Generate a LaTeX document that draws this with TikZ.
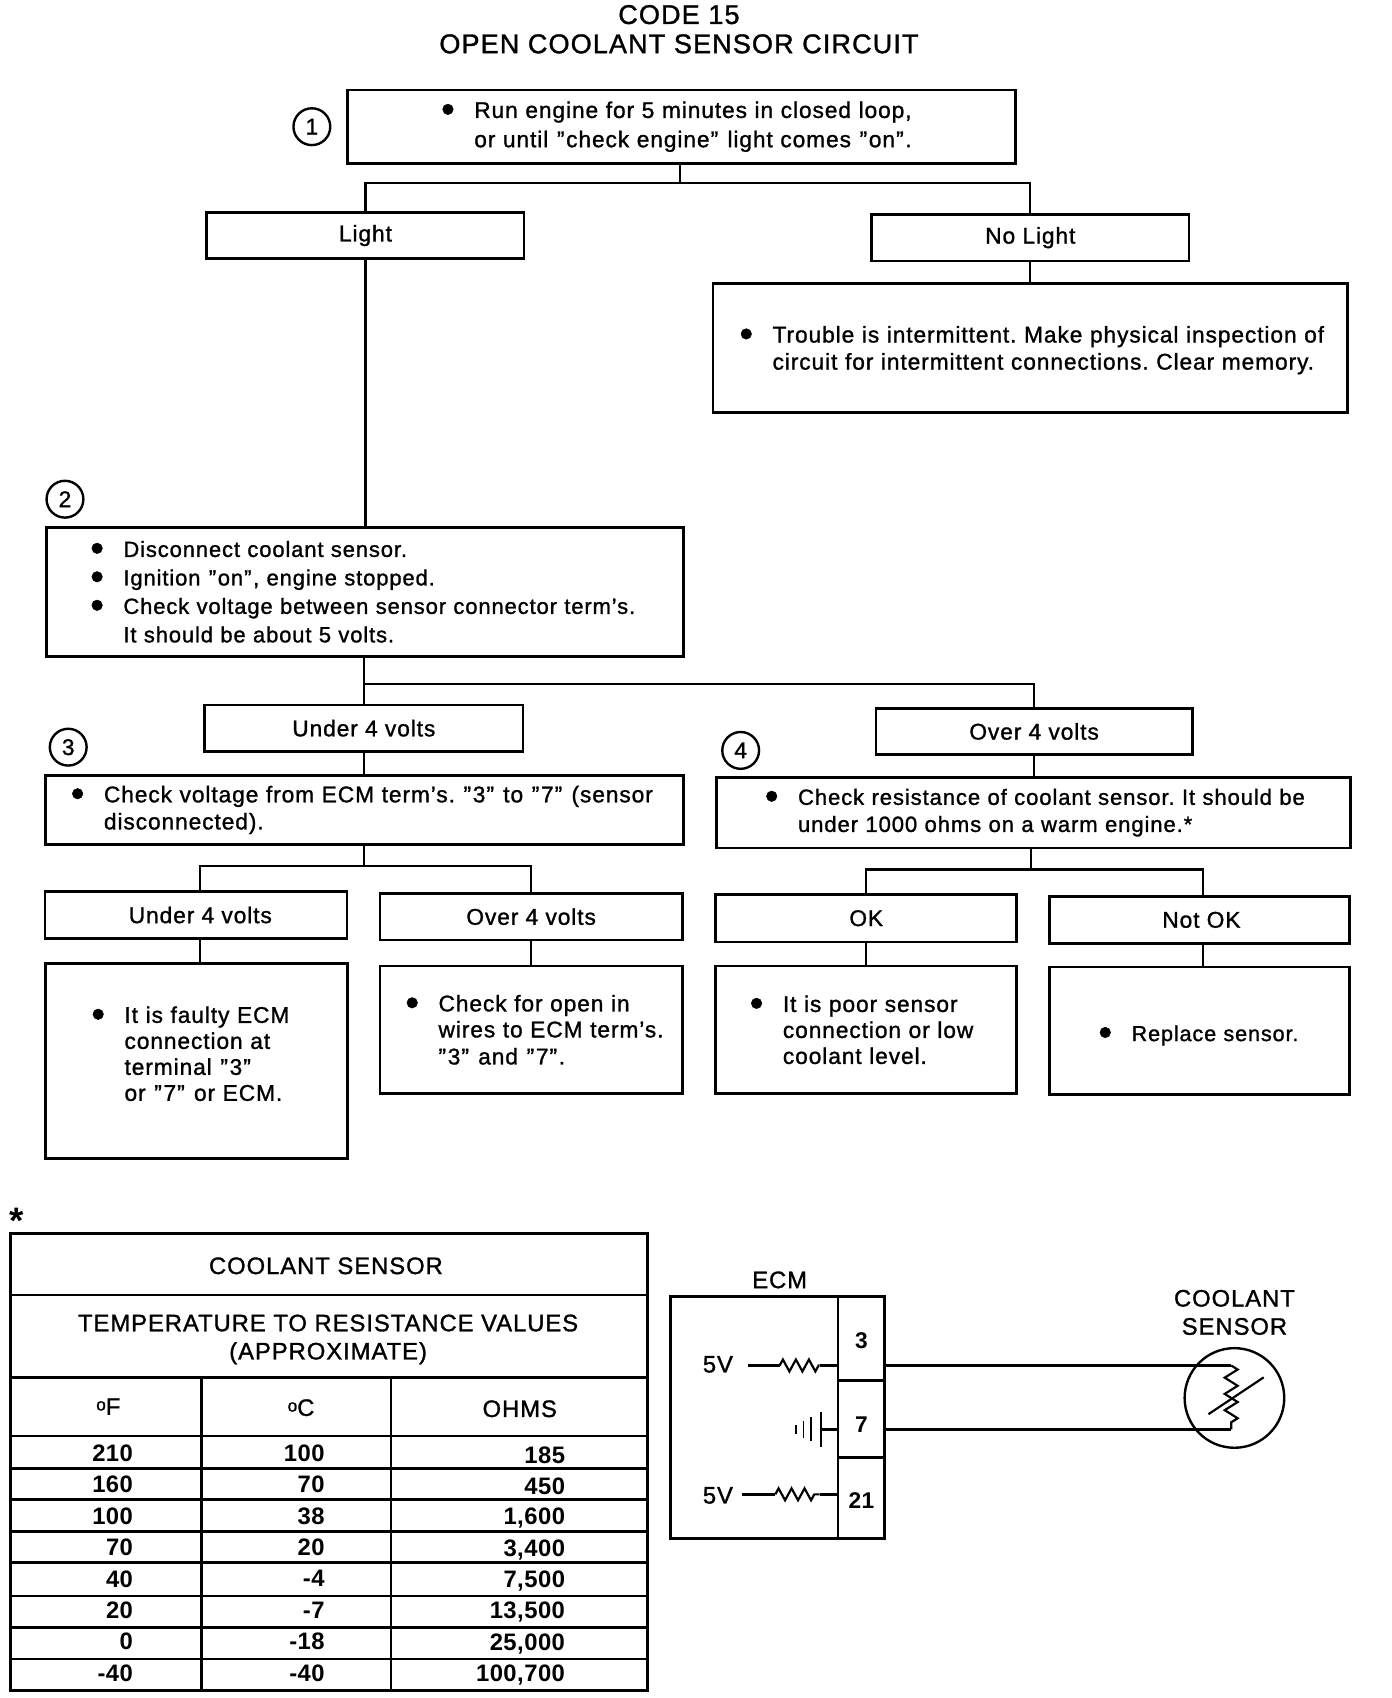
\documentclass[tikz,border=0pt]{standalone}
\usepackage{fontspec}
\setmainfont[LetterSpace=4,FakeBold=1.2]{Liberation Sans}
\newfontfamily\tablefont[LetterSpace=2]{Liberation Sans Bold}
\usetikzlibrary{decorations.pathmorphing}

\tikzset{
  boxed/.style={draw,line width=2.5pt,inner sep=0pt},
  choice/.style={boxed,font=\fontsize{21}{24}\selectfont},
  note/.style={boxed,text width=#1,align=left,font=\fontsize{21}{25}\selectfont\frenchspacing},
  number/.style={draw,circle,line width=2.2pt,minimum size=34pt,inner sep=0pt,font=\fontsize{21}{24}\selectfont},
  caps/.style={font=\fontsize{22}{26}\selectfont,align=center,inner sep=0pt},
  tablecell/.style={font=\tablefont\fontsize{22}{24}\selectfont,anchor=east,inner sep=0pt},
  pinbox/.style={boxed,minimum width=43pt,font=\tablefont\fontsize{21}{24}\selectfont},
  link/.style={line width=2pt},
  wire/.style={line width=2.4pt},
  resist/.style={line width=2pt,decorate,decoration={zigzag,segment length=12pt,amplitude=5.5pt}},
}
\newcommand{\dotmark}{\leavevmode\llap{\smash{\raisebox{-4pt}{\fontsize{36}{25}\selectfont\textbullet}}\hspace{18pt}}}
\newcommand{\bulletat}[1]{\leftskip=#1pt\relax\dotmark}
\newcommand{\qt}{\kern1pt"\kern1.5pt}

\begin{document}
\begin{tikzpicture}[x=1pt,y=-1pt]
    \useasboundingbox (0,0) rectangle (1285.5,1568.1);

    % title
    \node[caps,font=\fontsize{25}{27}\selectfont] (title) at (627,27) {CODE 15\\OPEN COOLANT SENSOR CIRCUIT};

    % step numbers
    \node[number] (S_1) at (288,117) {1};
    \node[number] (S_2) at (60,461) {2};
    \node[number] (S_3) at (63,690) {3};
    \node[number] (S_4) at (684,693) {4};

    % flow chart boxes
    \node[note=617pt,minimum height=68pt] (run) at (629.5,117) {\baselineskip=27pt\bulletat{117}Run engine for 5 minutes in closed loop,\\or until \qt{}check engine\qt{} light comes \qt{}on\qt{}.\par};
    \node[choice,minimum width=293pt,minimum height=43pt] (light) at (337.5,217.5) {Light};
    \node[choice,minimum width=293pt,minimum height=43pt] (nolight) at (951.5,219.5) {No Light};
    \node[note=586pt,minimum height=119pt] (trouble) at (951.5,321.5) {\rule{0pt}{19pt}\bulletat{55}Trouble is intermittent. Make physical inspection of\\circuit for intermittent connections. Clear memory.\par};
    \node[note=588pt,minimum height=119pt,font=\fontsize{20.3}{25}\selectfont\frenchspacing] (disconnect) at (337,546.5) {\baselineskip=26.3pt\bulletat{71}Disconnect coolant sensor.\\\dotmark Ignition \qt{}on\qt{}, engine stopped.\\\dotmark Check voltage between sensor connector term's.\\It should be about 5 volts.\par};
    \node[choice,minimum width=294pt,minimum height=43pt] (under_a) at (336,672.5) {Under 4 volts};
    \node[choice,minimum width=292pt,minimum height=43pt] (over_a) at (955,675.5) {Over 4 volts};
    \node[note=589pt,minimum height=64pt] (ecmcheck) at (336.5,748) {\bulletat{54}Check voltage from ECM term's. \qt{}3\qt{} to \qt{}7\qt{} (sensor\\disconnected).\par};
    \node[note=585pt,minimum height=65pt,font=\fontsize{20.4}{25}\selectfont\frenchspacing] (ohms) at (954.5,750.5) {\bulletat{75}Check resistance of coolant sensor. It should be\\under 1000 ohms on a warm engine.*\par};
    \node[choice,minimum width=279pt,minimum height=44pt] (under_b) at (181,845) {\hspace{8pt}Under 4 volts};
    \node[choice,minimum width=279pt,minimum height=43pt] (over_b) at (490.5,846.5) {Over 4 volts};
    \node[choice,minimum width=278pt,minimum height=44pt] (ok) at (800,848) {OK};
    \node[choice,minimum width=277pt,minimum height=43pt] (notok) at (1107.5,849.5) {\hspace{4pt}Not OK};
    \node[note=279pt,minimum height=180pt,font=\fontsize{21}{24}\selectfont] (faulty) at (181.5,980) {\bulletat{73}It is faulty ECM\\connection at\\terminal \qt{}3\qt{}\\or \qt{}7\qt{} or ECM.\rule[-14pt]{0pt}{1pt}\par};
    \node[note=279pt,minimum height=118pt,font=\fontsize{21}{24}\selectfont] (wires) at (490.5,951) {\bulletat{54}Check for open in\\wires to ECM term's.\\\qt{}3\qt{} and \qt{}7\qt{}.\par};
    \node[note=278pt,minimum height=118pt,font=\fontsize{21}{24}\selectfont] (poor) at (800,951) {\bulletat{62}It is poor sensor\\connection or low\\coolant level.\par};
    \node[note=277pt,minimum height=118pt,font=\fontsize{20}{24}\selectfont] (replace) at (1107.5,952) {\rule{0pt}{23pt}\bulletat{76}Replace sensor.\par};

    % connectors
    \coordinate (fork_a) at (628,169);
    \coordinate (fork_b) at (336,632);
    \coordinate (fork_c) at (336,800);
    \coordinate (fork_d) at (952,803);
    \draw[link] (run.south -| fork_a) -- (fork_a);
    \draw[link] (light.north) |- (fork_a) -| (nolight.north);
    \draw[link] (nolight.south) -- (trouble.north -| nolight.south);
    \draw[link] (light.south) -- (disconnect.north -| light.south);
    \draw[link] (disconnect.south -| fork_b) -- (under_a.north);
    \draw[link] (fork_b) -| (over_a.north);
    \draw[link] (under_a.south) -- (ecmcheck.north -| under_a.south);
    \draw[link] (over_a.south) -- (ohms.north -| over_a.south);
    \draw[link] (ecmcheck.south -| fork_c) -- (fork_c);
    \draw[link] (ohms.south -| fork_d) -- (fork_d);
    \draw[link] ([xshift=4pt]under_b.north) |- (fork_c) -| (over_b.north);
    \draw[link] (ok.north) |- (fork_d) -| ([xshift=3.5pt]notok.north);
    \draw[link] ([xshift=4pt]under_b.south) -- ([xshift=4pt]under_b.south |- faulty.north);
    \draw[link] (over_b.south) -- (wires.north);
    \draw[link] (ok.south) -- (poor.north);
    \draw[link] ([xshift=3.5pt]notok.south) -- ([xshift=3.5pt]replace.north);

    % table
    \node[tablecell,font=\tablefont\fontsize{34}{24}\selectfont,anchor=center] (star) at (15,1127) {*};
    \draw[line width=2.5pt] (10,1139) rectangle (598,1561);
    \foreach \y in {1196,1272,1326,1356,1385,1414,1443,1474,1503,1532}
        \draw[line width=2.5pt] (10,\y) -- (598,\y);
    \foreach \x in {186,361}
        \draw[line width=2.2pt] (\x,1272) -- (\x,1561);
    \node[caps] (tabletitle) at (301,1169) {COOLANT SENSOR};
    \node[caps] (tablesub) at (303,1237) {TEMPERATURE TO RESISTANCE VALUES\\(APPROXIMATE)};
    \node[caps] (head_f) at (100,1299) {\raisebox{4pt}{\fontsize{16}{15}\selectfont o}F};
    \node[caps] (head_c) at (278,1300) {\raisebox{4pt}{\fontsize{16}{15}\selectfont o}C};
    \node[caps] (head_o) at (480,1301) {OHMS};
    \foreach \f/\c/\o [count=\i] in {210/100/185,160/70/450,100/38/{1,600},70/20/{3,400},40/-4/{7,500},20/-7/{13,500},0/-18/{25,000},-40/-40/{100,700}}{
        \node[tablecell] (f_\i) at (123,1342+29*\i-29) {\f};
        \node[tablecell] (c_\i) at (300,1342+29*\i-29) {\c};
        \node[tablecell] (o_\i) at (522,1344+29*\i-29) {\o};
    }

    % circuit
    \node[boxed,minimum width=155pt,minimum height=224pt] (ecm) at (696.5,1309) {};
    \node[pinbox,minimum height=78pt] (pin_a) at (795.5,1236) {\rule{0pt}{19pt}3};
    \node[pinbox,minimum height=71pt] (pin_b) at (795.5,1310.5) {\rule{0pt}{25pt}7};
    \node[pinbox,minimum height=75pt] (pin_c) at (795.5,1383.5) {\rule{0pt}{19pt}21};
    \node[caps] (ecmtitle) at (720,1182) {ECM};
    \node[caps] (sensortitle) at (1140,1212) {COOLANT\\SENSOR};
    \node[caps] (volt_a) at (663,1260) {5V};
    \node[caps] (volt_b) at (663,1381) {5V};
    \node[draw,circle,line width=2.2pt,minimum size=92pt,inner sep=0pt] (sensor) at (1140,1291) {};

    \coordinate (wire_a) at (1137,1261);
    \coordinate (wire_b) at (1137,1320);
    \coordinate (res_a) at (720,1261);
    \coordinate (res_b) at (757,1261);
    \coordinate (res_c) at (716,1380);
    \coordinate (res_d) at (757,1380);
    \draw[wire] (pin_a.east |- wire_a) -- (wire_a);
    \draw[wire] (pin_b.east |- wire_b) -- (wire_b);
    \draw[resist,decoration={segment length=15pt,amplitude=6pt}] (wire_a) -- (wire_b);
    \draw[line width=2pt] (1116,1306) -- (1167,1272);
    \draw[wire] (volt_a.east |- res_a) ++(14,0) -- (res_a);
    \draw[resist] (res_a) -- (res_b);
    \draw[wire] (res_b) -- (ecm.east |- res_b);
    \draw[wire] (volt_b.east |- res_c) ++(8,0) -- (res_c);
    \draw[resist] (res_c) -- (res_d);
    \draw[wire] (res_d) -- (ecm.east |- res_d);
    % ground symbol
    \draw[wire] (ecm.east |- wire_b) -- (758,1320);
    \foreach \x/\h in {758/16,749/11,742/8,735/4}
        \draw[line width=1.8pt] (\x,1320-\h) -- (\x,1320+\h);
\end{tikzpicture}
\end{document}
